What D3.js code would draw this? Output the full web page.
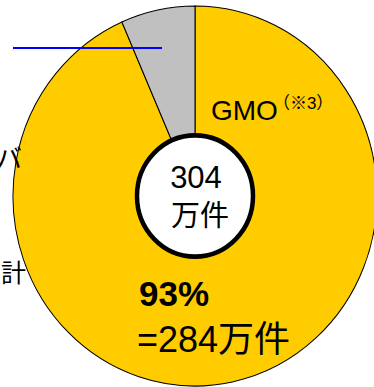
<!DOCTYPE html>
<html>
<head>
<meta charset="utf-8">
<script src="https://cdn.jsdelivr.net/npm/d3@7"></script>
<style>
  body { margin: 0; background: #fff; }
  text { font-family: "Liberation Sans", Arial, "Noto Sans CJK JP", sans-serif; }
</style>
</head>
<body>
<div id="chart"></div>
<script>
let categories = ["GMO", "非GMO"];
let values = [284, 20];
let colors = ["#FFCC00", "#C0C0C0"];
let totalLabel = ["304", "万件"];
let shareLabel = ["93%", "=284万件"];

let width = 374;
let height = 387;

let svg = d3.select("#chart")
    .append("svg")
    .attr("width", width)
    .attr("height", height);

let pieGroup = svg.append("g")
    .attr("transform", "translate(195,196) scale(1,1.044)");

let pie = d3.pie()
    .sort(null)
    .value((d) => d);

let arc = d3.arc()
    .innerRadius(0)
    .outerRadius(182);

pieGroup.selectAll("path.slice")
    .data(pie(values))
    .enter()
    .append("path")
    .attr("class", "slice")
    .attr("fill", (d, i) => colors[i])
    .attr("stroke", "#000")
    .attr("stroke-width", 1)
    .attr("d", arc);

// white centre circle
pieGroup.append("circle")
    .attr("r", 58)
    .attr("fill", "#fff")
    .attr("stroke", "#000")
    .attr("stroke-width", 4.5);

// blue leader line
svg.append("line")
    .attr("x1", 13)
    .attr("x2", 162)
    .attr("y1", 48)
    .attr("y2", 48)
    .attr("stroke", "#0000FF")
    .attr("stroke-width", 2);

// GMO label with note mark
let gmo = svg.append("text")
    .attr("x", 211)
    .attr("y", 120)
    .attr("font-size", 28);
gmo.append("tspan")
    .text(categories[0]);
gmo.append("tspan")
    .attr("dx", -5)
    .attr("dy", -11)
    .attr("font-size", 17)
    .text("（※3）");

// total in centre
svg.append("text")
    .attr("x", 196)
    .attr("y", 188)
    .attr("text-anchor", "middle")
    .attr("font-size", 31)
    .text(totalLabel[0]);
svg.append("text")
    .attr("x", 200)
    .attr("y", 226)
    .attr("text-anchor", "middle")
    .attr("font-size", 29)
    .text(totalLabel[1]);

// share label
svg.append("text")
    .attr("x", 139)
    .attr("y", 306)
    .attr("font-size", 35)
    .attr("font-weight", "bold")
    .text(shareLabel[0]);
svg.append("text")
    .attr("x", 137)
    .attr("y", 352)
    .attr("font-size", 36)
    .text(shareLabel[1]);

// cut-off labels at the left edge
svg.append("text")
    .attr("x", 22)
    .attr("y", 168)
    .attr("text-anchor", "end")
    .attr("font-size", 26)
    .text("バ");
svg.append("text")
    .attr("x", 26)
    .attr("y", 282)
    .attr("text-anchor", "end")
    .attr("font-size", 25)
    .text("計");
</script>
</body>
</html>
